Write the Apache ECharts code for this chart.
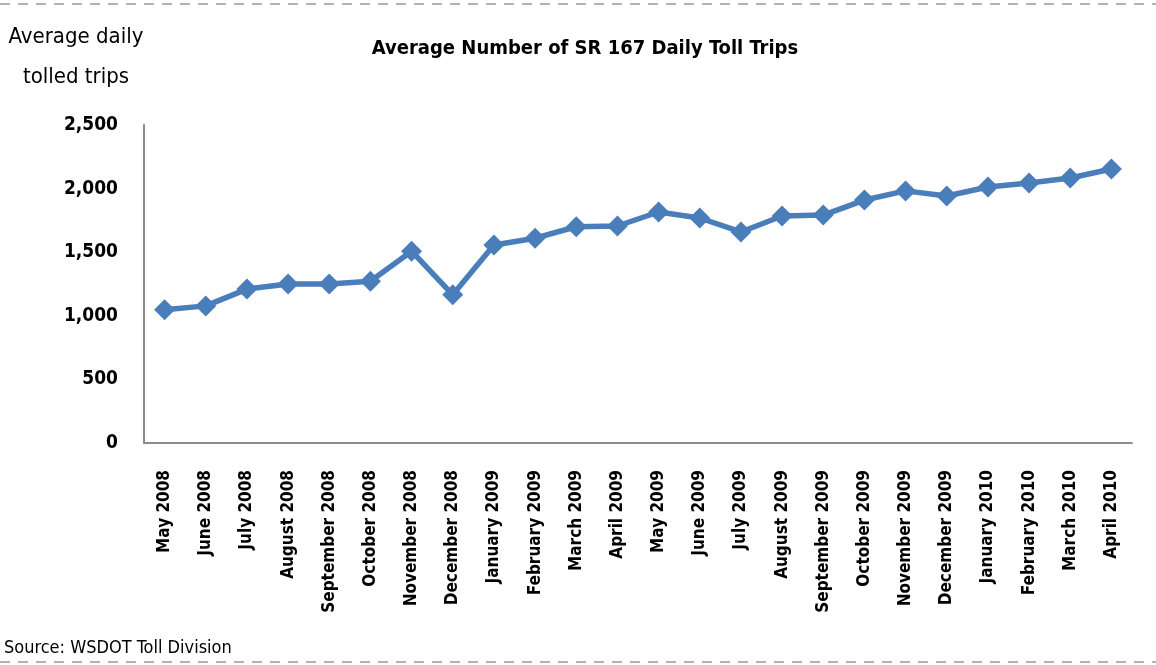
<!DOCTYPE html>
<html>
<head>
<meta charset="utf-8">
<script src="https://cdn.jsdelivr.net/npm/echarts@6/dist/echarts.min.js"></script>
<style>
  html, body { margin: 0; padding: 0; background: #fff; }
  #chart { width: 1156px; height: 665px; }
</style>
</head>
<body>
<div id="chart"></div>
<script>
// Months covered by the SR 167 toll trip series
const months = [
  'May 2008', 'June 2008', 'July 2008', 'August 2008', 'September 2008', 'October 2008',
  'November 2008', 'December 2008', 'January 2009', 'February 2009', 'March 2009', 'April 2009',
  'May 2009', 'June 2009', 'July 2009', 'August 2009', 'September 2009', 'October 2009',
  'November 2009', 'December 2009', 'January 2010', 'February 2010', 'March 2010', 'April 2010'
];

// Average daily tolled trips per month
const dailyTrips = [
  1048, 1078, 1210, 1250, 1250, 1272,
  1508, 1165, 1557, 1610, 1700, 1706,
  1816, 1769, 1659, 1785, 1792, 1910,
  1982, 1942, 2013, 2044, 2083, 2154
];

// Value axis ticks
const yTicks = [0, 500, 1000, 1500, 2000, 2500];

const FONT = '"DejaVu Sans Condensed", "Liberation Sans", sans-serif';
const BLUE = '#4a7ebb';

const chart = echarts.init(document.getElementById('chart'), null, { renderer: 'canvas' });

chart.setOption({
  animation: false,
  backgroundColor: '#ffffff',
  title: {
    text: 'Average Number of SR 167 Daily Toll Trips',
    left: 580,
    top: 34,
    textAlign: 'center',
    textStyle: { fontFamily: FONT, fontWeight: 'bold', fontSize: 20, color: '#000' }
  },
  grid: { left: 144, right: 24, top: 125, bottom: 222, containLabel: false },
  xAxis: {
    type: 'category',
    data: months,
    boundaryGap: true,
    axisLine: { lineStyle: { color: '#8c8c8c', width: 2 } },
    axisTick: { show: false },
    axisLabel: {
      rotate: 90,
      interval: 0,
      margin: 27,
      fontFamily: FONT,
      fontWeight: 'bold',
      fontSize: 17,
      color: '#000'
    }
  },
  yAxis: {
    type: 'value',
    min: yTicks[0],
    max: yTicks[yTicks.length - 1],
    interval: yTicks[1] - yTicks[0],
    splitLine: { show: false },
    axisLine: { show: true, lineStyle: { color: '#8c8c8c', width: 2 } },
    axisTick: { show: false },
    axisLabel: {
      margin: 26,
      fontFamily: FONT,
      fontWeight: 'bold',
      fontSize: 19,
      color: '#000',
      formatter: v => v.toLocaleString('en-US')
    }
  },
  series: [{
    type: 'line',
    data: dailyTrips,
    symbol: 'diamond',
    symbolSize: 21,
    lineStyle: { color: BLUE, width: 5.5 },
    itemStyle: { color: BLUE },
    z: 3
  }],
  graphic: [
    {
      type: 'text',
      x: 76,
      y: 17,
      style: {
        text: 'Average daily\ntolled trips',
        align: 'center',
        fontFamily: FONT,
        fontSize: 22,
        lineHeight: 40,
        fill: '#000'
      }
    },
    {
      type: 'text',
      left: 4,
      top: 639,
      style: {
        text: 'Source: WSDOT Toll Division',
        fontFamily: FONT,
        fontSize: 18,
        fill: '#000'
      }
    },
    {
      type: 'line',
      shape: { x1: 0, y1: 4, x2: 1156, y2: 4 },
      style: { stroke: '#b3b3b3', lineWidth: 2, lineDash: [10, 8] }
    },
    {
      type: 'line',
      shape: { x1: 0, y1: 662, x2: 1156, y2: 662 },
      style: { stroke: '#b3b3b3', lineWidth: 2, lineDash: [10, 8] }
    }
  ]
});
</script>
</body>
</html>
